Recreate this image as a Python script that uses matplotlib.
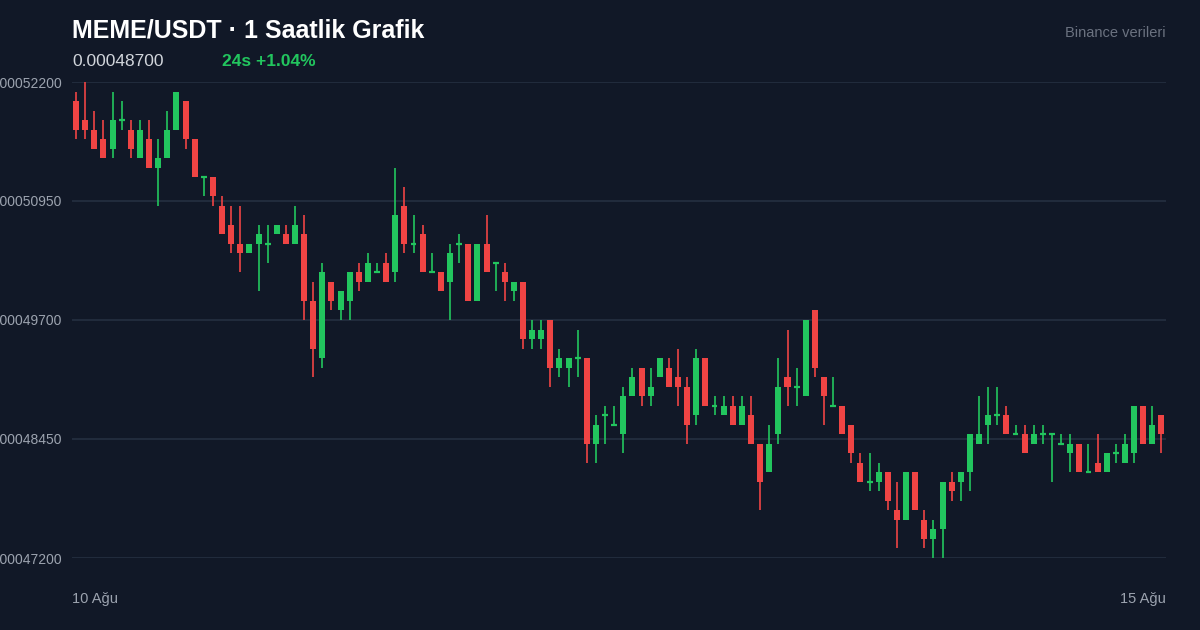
import matplotlib
matplotlib.use("Agg")
import matplotlib.pyplot as plt

plt.rcParams['font.family'] = ['Liberation Sans', 'DejaVu Sans']

# prices in units of 1e-6 USDT
opens  = [520,518,517,516,515,518,517,514,516,513,514,517,520,516,512,512,509,507,505,504,
          505,505,506,506,505,506,499,493,501,498,499,502,501,502,503,502,509,505,506,502,
          502,501,505,505,499,505,503,502,500,501,495,495,497,492,492,493,493,484,487,486,
          485,489,492,489,491,492,491,490,487,493,488,487,488,486,487,484,481,485,491,490,
          489,498,491,488,488,486,482,480,480,481,477,476,481,476,474,475,480,480,481,484,
          486,487,487,485,485,484,485,485,484,483,484,481,482,481,483,482,483,488,484,487]
highs  = [521,522,519,518,521,520,518,518,518,516,519,521,520,516,512,512,510,509,509,505,
          507,507,507,507,509,508,501,503,501,500,502,503,504,503,504,513,511,508,507,504,
          502,505,506,505,505,508,503,503,501,501,497,497,497,494,493,496,493,487,488,488,
          490,492,492,492,493,493,494,491,494,493,489,489,489,489,489,484,486,493,496,492,
          497,498,491,491,488,486,483,483,482,481,480,481,481,477,476,480,481,481,485,489,
          490,490,488,486,486,486,486,485,485,485,484,484,485,483,484,485,488,488,488,487]
lows   = [516,516,515,514,514,517,514,514,513,509,514,517,515,512,510,509,506,504,502,504,
          500,503,506,505,505,497,491,492,498,497,497,500,501,502,501,501,504,504,502,502,
          500,497,503,499,499,502,500,499,499,494,494,494,490,491,490,491,482,482,484,486,
          483,489,488,488,491,490,488,484,486,488,487,487,486,486,484,477,481,484,488,488,
          489,491,486,488,485,482,480,479,479,477,473,476,477,473,472,472,478,478,479,484,
          484,486,485,485,483,484,484,480,484,481,481,481,481,481,482,482,482,484,484,483]
closes = [517,517,515,514,518,518,515,517,513,514,517,521,516,512,512,510,506,505,504,505,
          506,505,507,505,507,499,494,502,499,500,502,501,503,502,501,508,505,505,502,502,
          500,504,505,499,505,502,503,501,501,495,496,496,492,493,493,493,484,486,487,486,
          489,491,489,490,493,490,490,486,493,488,488,488,486,488,484,480,484,490,490,490,
          497,492,489,488,485,483,480,480,481,478,476,481,477,474,475,480,479,481,485,485,
          487,487,485,485,483,485,485,485,484,484,481,481,481,483,483,484,488,484,486,485]
ytick_vals = [0.000522, 0.0005095, 0.000497, 0.0004845, 0.000472]
ytick_labels = ["0.00052200", "0.00050950", "0.00049700", "0.00048450", "0.00047200"]
x_labels = ["10 Ağu", "15 Ağu"]

BG = "#111827"
GREEN = "#22c55e"
RED = "#ef4444"
GRID = "#253041"
MUTED = "#9ca3af"

fig = plt.figure(figsize=(12, 6.3), dpi=100, facecolor=BG)
ax = fig.add_axes([72/1200, (630-558)/630, 1094/1200, 476/630], facecolor=BG)

for i in range(len(opens)):
    o, h, l, c = [v*1e-6 for v in (opens[i], highs[i], lows[i], closes[i])]
    col = GREEN if c >= o else RED
    ax.vlines(i, l, h, color=col, lw=1.2, zorder=3)
    body = abs(c - o)
    if body < 0.15e-6:
        ax.hlines(o, i-0.32, i+0.32, color=col, lw=1.6, zorder=4)
    else:
        ax.bar(i, body, bottom=min(o, c), width=0.66, color=col, zorder=4)

ax.set_xlim(-0.45, 119.5)
ax.set_ylim(0.000472, 0.000522)
ax.set_yticks(ytick_vals)
ax.set_yticklabels(ytick_labels)
ax.grid(axis="y", color=GRID, lw=1.2)
ax.set_xticks([])
ax.tick_params(axis="y", length=0, colors=MUTED, labelsize=10, pad=7)
for s in ax.spines.values():
    s.set_visible(False)

fig.text(72/1200, 1-599/630, x_labels[0], color=MUTED, fontsize=10.5, va="center", ha="left")
fig.text(1166/1200, 1-599/630, x_labels[1], color=MUTED, fontsize=10.5, va="center", ha="right")
fig.text(72/1200, 1-30/630, "MEME/USDT · 1 Saatlik Grafik", color="white", fontsize=18, fontweight="bold", va="center")
fig.text(72/1200, 1-61/630, "0.00048700", color="#d1d5db", fontsize=12.5, va="center")
fig.text(222/1200, 1-61/630, "24s +1.04%", color=GREEN, fontsize=12.5, fontweight="bold", va="center")
fig.text(1166/1200, 1-33/630, "Binance verileri", color="#6b7280", fontsize=10.5, va="center", ha="right")

fig.savefig("out.png", dpi=100, facecolor=BG)
